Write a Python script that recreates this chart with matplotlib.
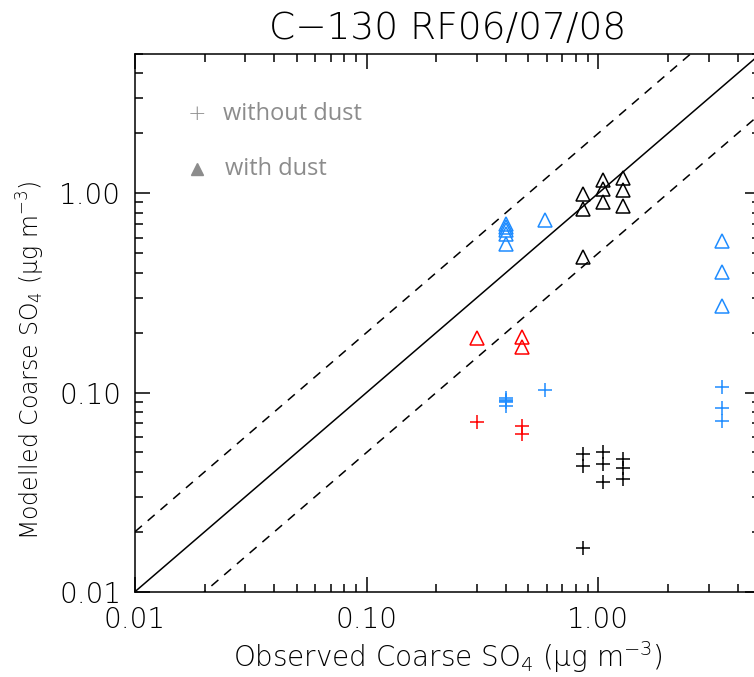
import numpy as np
import matplotlib
matplotlib.use('Agg')
import matplotlib.pyplot as plt
from matplotlib.ticker import FixedLocator, FixedFormatter, NullFormatter, LogLocator

# Observed vs modelled coarse sulphate, C-130 flights RF06/07/08
# black group
obs_black_tri = [0.86, 0.86, 0.86, 1.05, 1.05, 1.05, 1.28, 1.28, 1.28]
mod_black_tri = [0.995, 0.837, 0.479, 1.17, 1.055, 0.903, 1.20, 1.035, 0.869]
obs_black_plus = [0.86, 0.86, 0.86, 1.05, 1.05, 1.05, 1.28, 1.28, 1.28]
mod_black_plus = [0.0494, 0.0427, 0.0165, 0.050, 0.044, 0.0354, 0.0463, 0.0416, 0.037]

# blue group
obs_blue_tri = [0.40, 0.40, 0.40, 0.40, 0.40, 0.59, 3.44, 3.44, 3.44]
mod_blue_tri = [0.704, 0.677, 0.651, 0.622, 0.559, 0.734, 0.576, 0.402, 0.272]
obs_blue_plus = [0.40, 0.40, 0.40, 0.40, 0.40, 0.59, 3.44, 3.44, 3.44]
mod_blue_plus = [0.094, 0.092, 0.0905, 0.0895, 0.0857, 0.1025, 0.106, 0.0832, 0.0721]

# red group
obs_red_tri = [0.30, 0.467, 0.467]
mod_red_tri = [0.187, 0.189, 0.169]
obs_red_plus = [0.30, 0.467, 0.467]
mod_red_plus = [0.0712, 0.068, 0.0618]

axis_min, axis_max = 0.01, 5.0
tick_vals = [0.01, 0.1, 1.0]
tick_labels = ['0.01', '0.10', '1.00']

BLUE = '#1e8cff'
RED = '#ff0000'

plt.rcParams['font.family'] = ['DejaVu Sans']
plt.rcParams['font.weight'] = 'light'
plt.rcParams['axes.titleweight'] = 'light'
plt.rcParams['axes.labelweight'] = 'light'
plt.rcParams['mathtext.fontset'] = 'custom'
plt.rcParams['mathtext.rm'] = 'DejaVu Sans:weight=light'
plt.rcParams['mathtext.it'] = 'DejaVu Sans:italic'

fig = plt.figure(figsize=(7.54, 6.77), dpi=100)
ax = fig.add_axes([0.179, 0.126, 0.829, 0.794])

# 1:1 and factor-of-two lines
line_x = np.array([axis_min, axis_max])
ax.plot(line_x, line_x, color='k', lw=1.1)
ax.plot(line_x, 2 * line_x, color='k', lw=1.1, ls=(0, (6, 5)))
ax.plot(line_x, 0.5 * line_x, color='k', lw=1.1, ls=(0, (6, 5)))

tri = dict(marker='^', ls='none', ms=9.5, mfc='none', mew=1.1)
plus = dict(marker='+', ls='none', ms=9.5, mew=1.1)
for ox, my, c in [(obs_black_tri, mod_black_tri, 'k'),
                  (obs_blue_tri, mod_blue_tri, BLUE),
                  (obs_red_tri, mod_red_tri, RED)]:
    ax.plot(ox, my, mec=c, **tri)
for ox, my, c in [(obs_black_plus, mod_black_plus, 'k'),
                  (obs_blue_plus, mod_blue_plus, BLUE),
                  (obs_red_plus, mod_red_plus, RED)]:
    ax.plot(ox, my, color=c, **plus)

ax.set_xscale('log')
ax.set_yscale('log')
ax.set_xlim(axis_min, axis_max)
ax.set_ylim(axis_min, axis_max)

for axis in (ax.xaxis, ax.yaxis):
    axis.set_major_locator(FixedLocator(tick_vals))
    axis.set_major_formatter(FixedFormatter(tick_labels))
    axis.set_minor_locator(LogLocator(base=10, subs=np.arange(2, 10)))
    axis.set_minor_formatter(NullFormatter())
ax.tick_params(which='both', direction='in', top=True, right=True, width=1.1)
ax.tick_params(which='major', length=11, labelsize=20, pad=10)
ax.tick_params(which='minor', length=6)
for s in ax.spines.values():
    s.set_linewidth(1.1)

ax.set_title('C\u2212130 RF06/07/08', fontsize=27, pad=11)
ax.set_xlabel('Observed Coarse SO$_4$ (\u03bcg m$^{-3}$)', fontsize=20, labelpad=4)
ax.set_ylabel('Modelled Coarse SO$_4$ (\u03bcg m$^{-3}$)', fontsize=17)
ax.yaxis.set_label_coords(-0.14, 0.43)

# marker key
grey = '#8c8c8c'
ax.text(0.099, 0.888, '+', transform=ax.transAxes, color=grey, fontsize=16,
        ha='center', va='center')
ax.text(0.141, 0.888, 'without dust', transform=ax.transAxes, color=grey,
        fontsize=17, family='Open Sans', weight='normal', va='center')
ax.plot([0.099], [0.786], marker='^', ms=8, color=grey, ls='none',
        transform=ax.transAxes)
ax.text(0.144, 0.786, 'with dust', transform=ax.transAxes, color=grey,
        fontsize=17, family='Open Sans', weight='normal', va='center')

fig.savefig('out.png', dpi=100)
